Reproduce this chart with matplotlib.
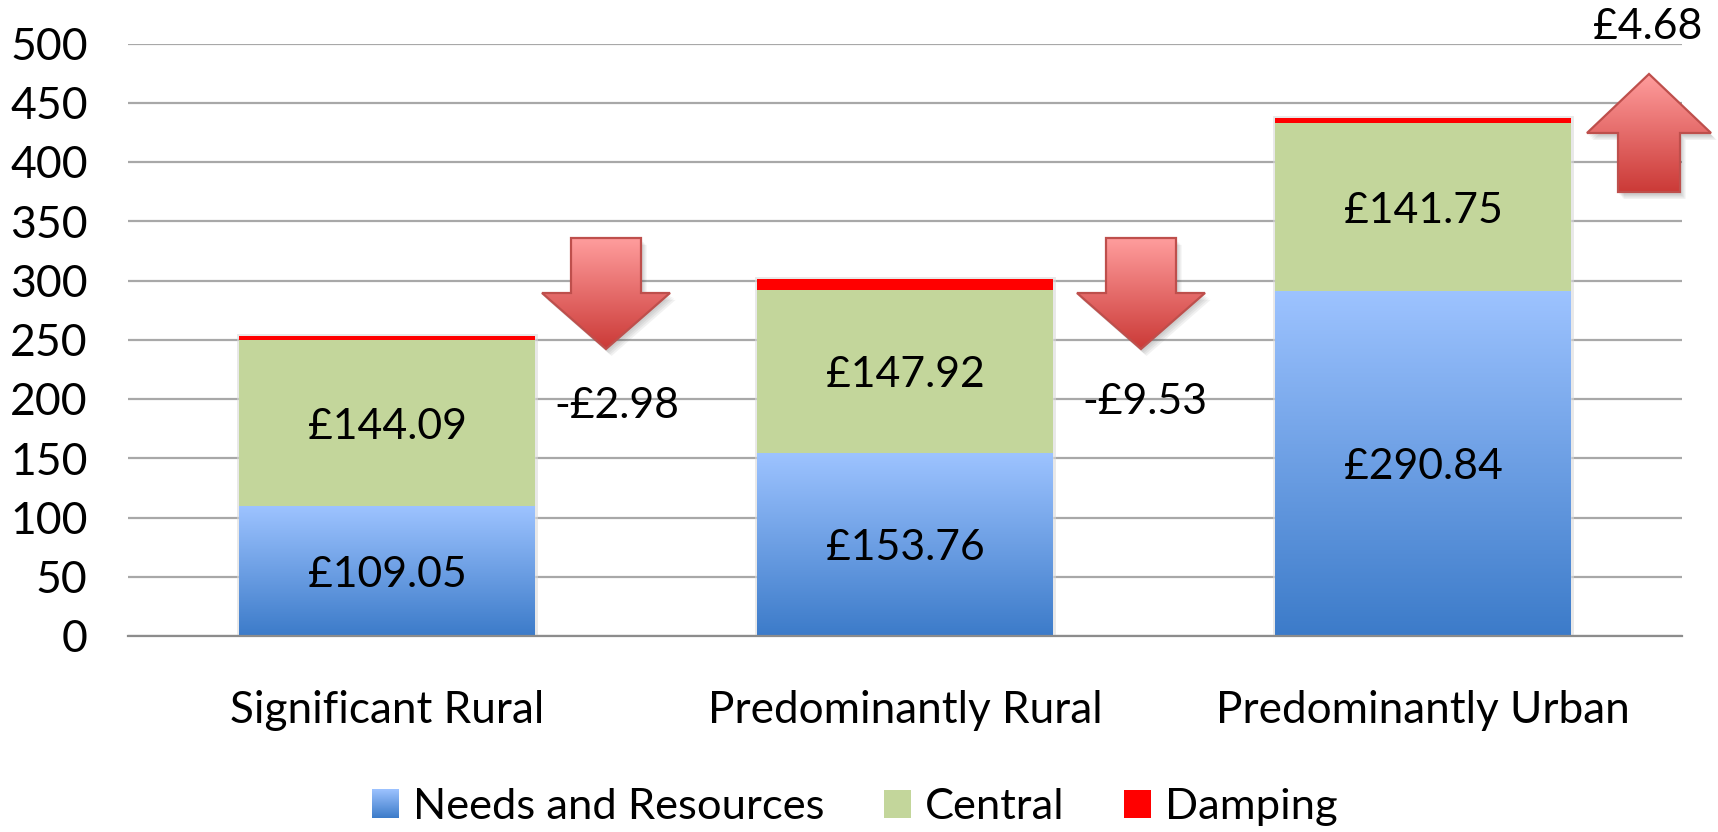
import numpy as np
import matplotlib
matplotlib.use('Agg')
import matplotlib.pyplot as plt
from matplotlib.colors import LinearSegmentedColormap
from matplotlib.patches import Polygon
import matplotlib.patheffects as pe

plt.rcParams['font.family'] = ['Lato', 'DejaVu Sans']

categories = ['Significant Rural', 'Predominantly Rural', 'Predominantly Urban']
needs = [109.05, 153.76, 290.84]
central_drawn = [141.11, 138.39, 141.75]
damping = [2.98, 9.53, 4.68]
needs_labels = ['£109.05', '£153.76', '£290.84']
central_labels = ['£144.09', '£147.92', '£141.75']
yticks = [0, 50, 100, 150, 200, 250, 300, 350, 400, 450, 500]

W, H = 1718, 832
FS = 30.8

blue_cmap = LinearSegmentedColormap.from_list('blue', ['#3C7BC9', '#9DC3FF'])
red_cmap = LinearSegmentedColormap.from_list('red', ['#CB3A37', '#FF9D9D'])
ramp = np.linspace(1, 0, 256).reshape(-1, 1)

fig = plt.figure(figsize=(W / 100, H / 100), dpi=100, facecolor='white')
ax = fig.add_axes([128 / W, 1 - 636 / H, (1682 - 128) / W, (636 - 43.5) / H])

'''
stacked bars
'''
x = np.arange(len(categories))
width = 0.571
bottom2 = np.array(needs)
bottom3 = bottom2 + np.array(central_drawn)
# faint halo behind each whole stack
ax.bar(x, bottom3 + np.array(damping), width, color='#FFFFFF', zorder=2.9,
       path_effects=[pe.Stroke(linewidth=3.5, foreground='#D9D9D9', alpha=0.6), pe.Normal()])
b1 = ax.bar(x, needs, width, color='#6C9FE4', zorder=3, label='Needs and Resources')
b2 = ax.bar(x, central_drawn, width, bottom=bottom2, color='#C3D69B', zorder=3, label='Central')
b3 = ax.bar(x, damping, width, bottom=bottom3, color='#FF0000', zorder=3, label='Damping')

for r in b1:
    ax.imshow(ramp, cmap=blue_cmap, aspect='auto', zorder=3.5, vmin=0, vmax=1,
              extent=(r.get_x(), r.get_x() + r.get_width(), 0, r.get_height()))

for i in x:
    ax.annotate(needs_labels[i], (i, needs[i] / 2), xytext=(0, -2.5), textcoords='offset points',
                ha='center', va='center', fontsize=FS, color='black', zorder=5)
    ax.annotate(central_labels[i], (i, bottom2[i] + central_drawn[i] / 2), xytext=(0, -2.5),
                textcoords='offset points', ha='center', va='center', fontsize=FS,
                color='black', zorder=5)

ax.set_xlim(-0.5, 2.5)
ax.set_ylim(0, 500)
ax.set_yticks(yticks)
ax.set_xticks(x)
ax.set_xticklabels(categories, fontsize=31.8)
ax.tick_params(axis='y', length=0, pad=29, labelsize=32, labelcolor='black')
ax.tick_params(axis='x', length=0, pad=39, labelcolor='black')
ax.grid(axis='y', color='#A8A8A8', linewidth=1.6, zorder=0)
ax.set_axisbelow(True)
for s in ['top', 'right', 'left']:
    ax.spines[s].set_visible(False)
ax.spines['bottom'].set_color('#8C8C8C')
ax.spines['bottom'].set_linewidth(1.6)
ax.spines['bottom'].set_zorder(6)

leg = fig.legend(handles=[b1, b2, b3], loc='center', bbox_to_anchor=(855 / W, 1 - 807 / H),
                 ncol=3, frameon=False, fontsize=31.3, handlelength=0.62, handleheight=0.62,
                 handletextpad=0.33, columnspacing=1.36, borderpad=0)

'''
overlay in picture pixels for arrows and the legend gradient
'''
over = fig.add_axes([0, 0, 1, 1], facecolor='none', zorder=10)
over.set_xlim(0, W)
over.set_ylim(H, 0)
over.axis('off')


def arrow(cx, tip, shoulder, end, half_head, half_stem):
    pts = [(cx - half_stem, end), (cx + half_stem, end), (cx + half_stem, shoulder),
           (cx + half_head, shoulder), (cx, tip), (cx - half_head, shoulder),
           (cx - half_stem, shoulder)]
    # soft shadow built from a few faint offset copies
    effects = [pe.SimplePatchShadow(offset=(o, -o - 1), alpha=0.07, shadow_rgbFace='#444444')
               for o in (4, 3, 2, 1)]
    shape = Polygon(pts, closed=True, facecolor='#E06060', edgecolor='none', zorder=1,
                    path_effects=effects + [pe.Normal()])
    over.add_patch(shape)
    top, low = min(tip, end), max(tip, end)
    im = over.imshow(ramp, cmap=red_cmap, aspect='auto', zorder=2, vmin=0, vmax=1,
                     extent=(cx - half_head, cx + half_head, low, top))
    im.set_clip_path(shape)
    over.add_patch(Polygon(pts, closed=True, facecolor='none', edgecolor='#BE4F4C',
                           linewidth=1.6, zorder=3))


arrow(606, 349, 293, 238, 64, 35)
arrow(1141, 349, 293, 238, 64, 35)
arrow(1649, 74, 133, 192, 62, 31)

over.text(617, 406, '-£2.98', ha='center', va='center', fontsize=FS, color='black', zorder=5)
over.text(1145, 402, '-£9.53', ha='center', va='center', fontsize=FS, color='black', zorder=5)
over.text(1648, 27, '£4.68', ha='center', va='center', fontsize=FS, color='black', zorder=5)

fig.canvas.draw()
h = leg.legend_handles[0]
bb = h.get_window_extent()
over.imshow(ramp, cmap=blue_cmap, aspect='auto', zorder=4, vmin=0, vmax=1,
            extent=(bb.x0, bb.x1, H - bb.y0, H - bb.y1))
over.set_xlim(0, W)
over.set_ylim(H, 0)

fig.savefig('out.png', dpi=100, facecolor='white')
